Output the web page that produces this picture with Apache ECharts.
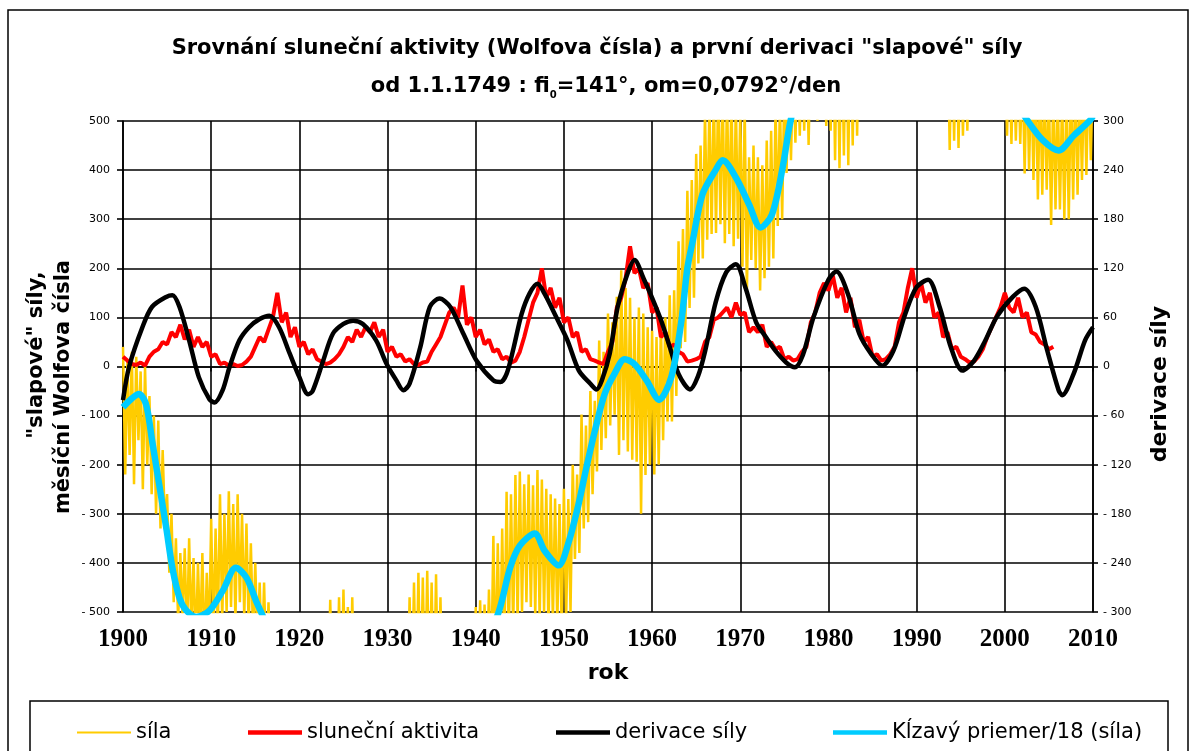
<!DOCTYPE html>
<html>
<head>
<meta charset="utf-8">
<script src="https://cdn.jsdelivr.net/npm/echarts@6/dist/echarts.min.js"></script>
<style>
html,body{margin:0;padding:0;background:#fff;}
#chart{width:1191px;height:751px;}
</style>
</head>
<body>
<div id="chart"></div>
<script>
// ---------------- DATA ----------------
const titleLine1 = 'Srovnání sluneční aktivity (Wolfova čísla) a první derivaci "slapové" síly';
const titleLine2a = 'od 1.1.1749 : fi';
const titleLine2sub = '0';
const titleLine2b = '=141°, om=0,0792°/den';
const xAxisName = 'rok';
const leftAxisName1 = '"slapové" síly,';
const leftAxisName2 = 'měsíční Wolfova čísla';
const rightAxisName = 'derivace síly';
const seriesNames = ['síla', 'sluneční aktivita', 'derivace síly', 'Kĺzavý priemer/18 (síla)'];

// "síla" (yellow) – sampled every 0.25 year from 1900
const silaStart = 1900;
const silaStep = 0.25;
const silaValues = [
  40,-220,10,-180, 30,-240,20,-150, -10,-250,0,-200, -60,-260,-100,-300, -110,-330,-170,-320,
  -260,-420,-300,-480, -350,-520,-380,-510, -370,-560,-350,-540, -390,-580,-400,-560, -380,-590,-420,-560,
  -310,-560,-330,-540, -260,-520,-300,-500, -254,-490,-280,-520, -260,-480,-300,-510, -320,-530,-360,-550,
  -400,-570,-440,-600, -440,-620,-480,-640, -520,-650,-540,-680, -560,-700,-580,-720, -580,-720,-600,-740,
  -590,-730,-600,-720, -580,-720,-590,-730, -560,-700,-570,-720, -540,-700,-475,-690, -520,-680,-470,-690,
  -454,-680,-490,-700, -470,-700,-520,-720, -560,-720,-580,-740, -580,-740,-590,-750, -590,-750,-600,-760,
  -580,-740,-570,-750, -550,-720,-540,-730, -520,-700,-470,-690, -440,-690,-420,-680, -430,-670,-416,-680,
  -440,-690,-423,-700, -470,-710,-520,-720, -540,-720,-560,-740, -560,-730,-570,-740, -540,-710,-550,-720,
  -490,-690,-476,-680, -485,-650,-454,-640, -345,-620,-360,-600, -330,-580,-255,-560, -260,-540,-221,-520,
  -214,-500,-240,-480, -220,-490,-242,-510, -211,-520,-230,-500, -249,-540,-260,-520, -269,-530,-280,-540,
  -249,-520,-270,-500, -200,-392,-220,-380, -98,-330,-120,-317, -50,-260,-70,-214, 53,-170,30,-146,
  108,-120,90,-98, 142,-180,196,-150, 160,-173,140,-190, 100,-194,120,-300, 108,-221,80,-200,
  73,-220,60,-200, 90,-150,100,-112, 145,-112,155,-60, 255,37,280,50, 358,119,380,140,
  433,210,450,220, 520,258,540,270, 560,272,580,290, 570,251,560,270, 560,245,540,260,
  520,203,530,148, 426,217,450,200, 426,155,410,180, 460,203,480,220, 530,286,540,300,
  580,394,600,420, 620,456,640,470, 660,480,680,451, 690,520,700,500, 710,510,700,490,
  720,480,730,420, 740,404,720,430, 750,410,740,450, 760,470,750,520, 770,540,760,560,
  780,560,790,570, 790,570,780,560, 800,580,790,570, 790,560,780,550, 780,550,770,540,
  770,540,760,530, 760,530,750,520, 740,515,730,510, 720,505,700,441, 700,460,710,445,
  700,470,690,480, 700,520,710,530, 720,530,710,520, 720,520,700,510, 700,510,690,505,
  680,470,670,453, 650,460,640,453, 620,393,630,400, 600,380,610,340, 590,350,580,360,
  560,288,570,320, 560,320,550,300, 570,300,580,340, 590,350,580,380, 600,390,610,420,
  620
];

// "sluneční aktivita" (red, Wolf numbers) – every 0.5 year from 1900
const sunStart = 1900;
const sunStep = 0.5;
const sunValues = [
  20,12, 5,3, 8,2, 20,30, 35,50, 45,70, 60,85, 55,75, 40,60, 40,50,
  20,25, 5,8, 2,5, 1,3, 10,20, 40,60, 50,75, 100,150, 90,110, 60,80,
  40,50, 25,35, 15,10, 5,8, 15,25, 40,60, 50,75, 60,80, 70,90, 60,75,
  30,40, 20,25, 10,15, 5,3, 8,10, 30,45, 60,85, 110,120, 100,165, 85,100,
  60,75, 45,55, 30,35, 15,20, 8,12, 30,60, 95,130, 150,200, 140,160, 120,140,
  90,100, 60,70, 30,35, 15,12, 8,5, 30,50, 120,140, 180,245, 190,200, 160,170,
  110,120, 60,70, 40,45, 30,25, 10,12, 15,20, 50,60, 95,100, 110,120, 100,130,
  105,110, 70,80, 70,85, 40,50, 35,40, 15,20, 12,15, 30,40, 90,110, 150,170,
  155,185, 140,160, 110,140, 80,95, 50,60, 20,25, 12,15, 25,40, 90,110, 160,200,
  140,170, 130,150, 100,110, 60,70, 35,40, 20,15, 8,10, 20,35, 60,80, 100,120,
  150,120, 110,140, 100,110, 70,65, 50,45, 35,40
];

// "derivace síly" (black, right axis) – [year, value]
const derivace = [
  [1900.0,-41],[1900.7,0],[1902.2,48],[1903.3,73],[1904.9,85],[1905.6,87],[1906.4,73],[1907.5,32],
  [1908.6,-13],[1909.8,-40],[1910.4,-44],[1911.3,-29],[1912.1,0],[1913.2,32],[1914.3,48],[1915.5,58],
  [1916.6,62],[1917.7,48],[1918.9,16],[1920.0,-13],[1921.0,-34],[1921.5,-30],[1922.7,7],[1923.8,40],
  [1925.0,52],[1926.1,56],[1927.2,52],[1928.7,32],[1929.9,3],[1931.0,-17],[1931.8,-29],[1932.5,-21],
  [1933.7,23],[1934.8,73],[1935.9,83],[1937.1,73],[1938.6,40],[1940.1,7],[1942.0,-17],[1942.8,-19],
  [1943.5,-9],[1944.3,23],[1945.2,64],[1946.1,89],[1947.0,101],[1947.8,89],[1949.1,61],[1950.4,32],
  [1951.7,-5],[1953.0,-21],[1953.7,-28],[1954.3,-17],[1955.2,16],[1956.1,73],[1957.2,113],[1958.0,130],
  [1959.1,106],[1960.0,84],[1961.0,57],[1962.0,24],[1963.0,-9],[1964.3,-28],[1965.2,-12],[1966.0,18],
  [1967.2,78],[1968.4,115],[1969.5,125],[1970.6,96],[1971.8,54],[1972.9,36],[1974.0,19],[1975.2,5],
  [1976.2,-1],[1977.1,14],[1978.3,60],[1980.0,106],[1980.9,116],[1982.2,89],[1983.5,40],[1984.8,16],
  [1986.1,1],[1987.4,20],[1988.7,64],[1990.0,97],[1991.3,106],[1992.6,73],[1993.9,23],[1995.2,-5],
  [1996.5,7],[1997.8,32],[1999.1,61],[2000.9,85],[2002.2,95],[2003.5,73],[2004.8,20],[2006.1,-29],
  [2006.5,-35],[2007.8,-9],[2009.1,32],[2010.0,48]
];

// "Kĺzavý priemer/18 (síla)" (cyan) – [year, value]
const klzavy = [
  [1900.0,-83],[1901.0,-65],[1901.8,-56],[1902.6,-76],[1903.3,-151],[1904.1,-240],[1904.9,-328],
  [1905.6,-410],[1906.4,-471],[1907.1,-495],[1908.3,-510],[1909.8,-497],[1911.3,-457],[1912.8,-410],
  [1914.0,-430],[1915.1,-478],[1915.9,-510],[1917.0,-560],[1920.0,-640],[1925.0,-620],[1930.0,-660],
  [1935.0,-600],[1938.0,-640],[1941.0,-560],[1942.6,-500],[1943.9,-410],[1945.0,-365],[1946.7,-340],
  [1947.8,-375],[1949.4,-405],[1950.5,-360],[1951.6,-285],[1952.5,-210],[1953.5,-132],[1954.6,-57],
  [1955.7,-16],[1956.9,15],[1958.0,5],[1959.4,-29],[1960.8,-68],[1962.2,-20],[1963.3,90],[1964.0,200],
  [1964.6,255],[1965.7,350],[1967.2,400],[1968.0,420],[1969.5,385],[1971.0,330],[1972.3,283],
  [1973.6,310],[1974.8,405],[1975.7,500],[1977.0,580],[1980.0,620],[1985.0,660],[1990.0,650],
  [1995.0,600],[2000.0,570],[2002.6,500],[2004.3,461],[2006.1,440],[2007.8,470],[2009.6,500],[2010.0,510]
];

// axis ranges / ticks
const xMin = 1900, xMax = 2010, xStep = 10;
const yLeftMin = -500, yLeftMax = 500, yLeftStep = 100;
const yRightMin = -300, yRightMax = 300, yRightStep = 60;

// ---------------- CHART ----------------
const silaData = silaValues.map((v, i) => [silaStart + i * silaStep, v]);
const sunData = sunValues.map((v, i) => [sunStart + i * sunStep, v]);
const negFmt = v => (v < 0 ? '- ' + Math.abs(v) : String(v));

const chart = echarts.init(document.getElementById('chart'), null, {renderer: 'canvas'});
const tickFont = {fontFamily: 'DejaVu Sans', fontSize: 11, color: '#000'};
const thin = 'path://M0,0H54V1.8H0Z';
const thick = 'path://M0,0H54V4.5H0Z';
const legendLefts = [72, 243, 551, 828];
const legendIcons = [thin, thick, thick, thick];
const legends = seriesNames.map((n, i) => ({
  left: legendLefts[i], top: 717,
  itemWidth: 54, itemHeight: 14,
  selectedMode: false,
  textStyle: {fontFamily: 'DejaVu Sans', fontSize: 21, color: '#000'},
  data: [{name: n, icon: legendIcons[i]}]
}));

chart.setOption({
  animation: false,
  backgroundColor: '#fff',
  grid: {left: 123, right: 98, top: 121, bottom: 139, containLabel: false},
  legend: legends,
  xAxis: {
    type: 'value', min: xMin, max: xMax, interval: xStep,
    axisLine: {show: true, lineStyle: {color: '#000', width: 1.6}},
    axisTick: {show: true, inside: false, length: 5, lineStyle: {color: '#000', width: 1.6}},
    splitLine: {show: true, lineStyle: {color: '#000', width: 1.6}},
    axisLabel: {margin: 15, formatter: v => String(v), fontFamily: 'Liberation Serif', fontWeight: 'bold', fontSize: 25, color: '#000'}
  },
  yAxis: [
    {
      type: 'value', min: yLeftMin, max: yLeftMax, interval: yLeftStep,
      axisLine: {show: true, lineStyle: {color: '#000', width: 1.6}},
      axisTick: {show: true, inside: false, length: 6, lineStyle: {color: '#000', width: 1.6}},
      splitLine: {show: true, lineStyle: {color: '#000', width: 1.6}},
      axisLabel: Object.assign({margin: 13, formatter: negFmt}, tickFont)
    },
    {
      type: 'value', position: 'right', min: yRightMin, max: yRightMax, interval: yRightStep,
      axisLine: {show: true, lineStyle: {color: '#000', width: 1.6}},
      axisTick: {show: true, inside: false, length: 5, lineStyle: {color: '#000', width: 1.6}},
      splitLine: {show: false},
      axisLabel: Object.assign({margin: 10, formatter: negFmt}, tickFont)
    }
  ],
  series: [
    {name: seriesNames[0], type: 'line', data: silaData, yAxisIndex: 0, showSymbol: false, symbol: 'none',
     lineStyle: {color: '#FFCC00', width: 2.5}, itemStyle: {color: '#FFCC00'}, clip: true, z: 2},
    {name: seriesNames[1], type: 'line', data: sunData, yAxisIndex: 0, showSymbol: false, symbol: 'none',
     lineStyle: {color: '#FF0000', width: 4}, itemStyle: {color: '#FF0000'}, clip: true, z: 3},
    {name: seriesNames[2], type: 'line', data: derivace, yAxisIndex: 1, showSymbol: false, symbol: 'none',
     smooth: 0.3, lineStyle: {color: '#000000', width: 4.5}, itemStyle: {color: '#000000'}, clip: true, z: 4},
    {name: seriesNames[3], type: 'line', data: klzavy, yAxisIndex: 0, showSymbol: false, symbol: 'none',
     smooth: 0.3, lineStyle: {color: '#00CCFF', width: 6.5}, itemStyle: {color: '#00CCFF'}, clip: true, z: 5}
  ],
  graphic: [
    {type: 'rect', shape: {x: 8, y: 10, width: 1180, height: 760}, style: {fill: null, stroke: '#000', lineWidth: 1.5}, silent: true, z: -1},
    {type: 'rect', shape: {x: 30, y: 701, width: 1138, height: 70}, style: {fill: null, stroke: '#000', lineWidth: 1.5}, silent: true},
    {type: 'text', x: 597, y: 49, style: {text: titleLine1, fontFamily: 'DejaVu Sans', fontWeight: 'bold', fontSize: 21, fill: '#000', textAlign: 'center', textVerticalAlign: 'middle'}},
    {type: 'text', x: 606, y: 87, style: {
      text: '{b|' + titleLine2a + '}{s|' + titleLine2sub + '}{b|' + titleLine2b + '}',
      textAlign: 'center', textVerticalAlign: 'middle',
      rich: {
        b: {fontFamily: 'DejaVu Sans', fontWeight: 'bold', fontSize: 21, fill: '#000', lineHeight: 26},
        s: {fontFamily: 'DejaVu Sans', fontWeight: 'bold', fontSize: 10, fill: '#000', lineHeight: 26, verticalAlign: 'bottom'}
      }}},
    {type: 'text', x: 608, y: 673, style: {text: xAxisName, fontFamily: 'DejaVu Sans', fontWeight: 'bold', fontSize: 22, fill: '#000', textAlign: 'center', textVerticalAlign: 'middle'}},
    {type: 'text', x: 37, y: 355, rotation: Math.PI / 2, style: {text: leftAxisName1, fontFamily: 'DejaVu Sans', fontWeight: 'bold', fontSize: 21, fill: '#000', textAlign: 'center', textVerticalAlign: 'middle'}},
    {type: 'text', x: 64, y: 387, rotation: Math.PI / 2, style: {text: leftAxisName2, fontFamily: 'DejaVu Sans', fontWeight: 'bold', fontSize: 21, fill: '#000', textAlign: 'center', textVerticalAlign: 'middle'}},
    {type: 'text', x: 1160, y: 384, rotation: Math.PI / 2, style: {text: rightAxisName, fontFamily: 'DejaVu Sans', fontWeight: 'bold', fontSize: 22, fill: '#000', textAlign: 'center', textVerticalAlign: 'middle'}}
  ]
});
</script>
</body>
</html>
